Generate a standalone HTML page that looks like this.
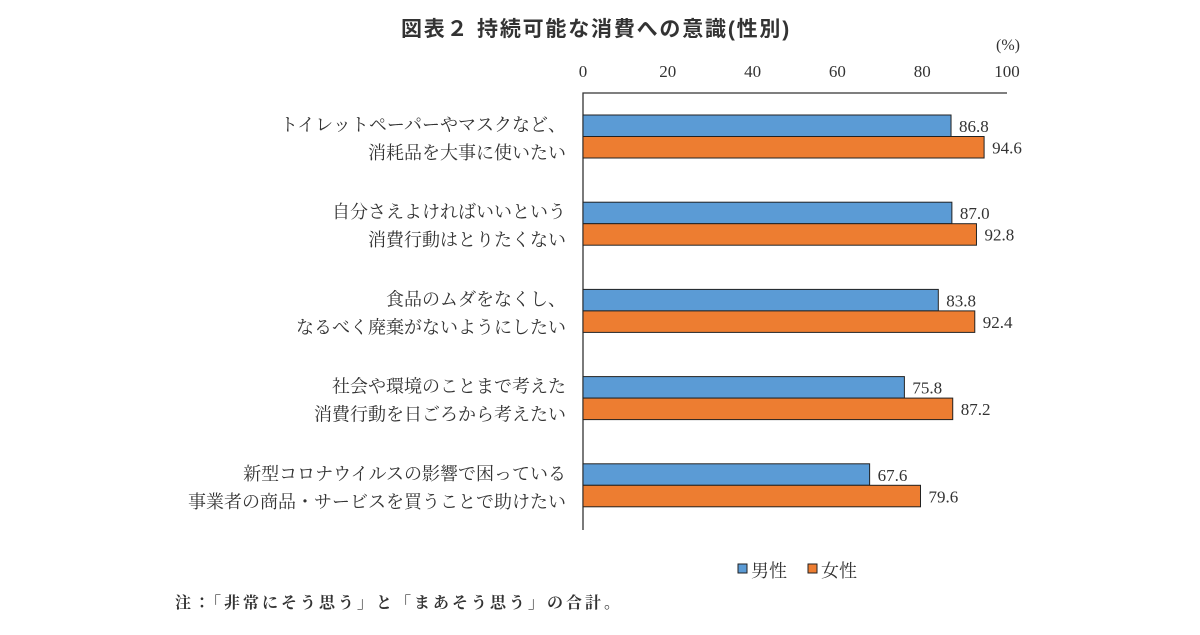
<!DOCTYPE html>
<html><head><meta charset="utf-8"><style>
body{margin:0;background:#fff}
svg text{font-family:"Liberation Serif","Noto Serif CJK JP","Noto Serif CJK SC",serif;fill:#333}
</style></head><body>
<svg id="c" width="1200" height="630">
<text x="596" y="36" text-anchor="middle" font-size="21" font-weight="bold" letter-spacing="1.8" style="font-family:'Liberation Sans','Noto Sans CJK JP',sans-serif">図表２ 持続可能な消費への意識(性別)</text>
<text x="1008" y="50" text-anchor="middle" font-size="16">(%)</text>
<text x="175" y="608" font-size="16" font-weight="bold" letter-spacing="3">注：「非常にそう思う」と「まあそう思う」の合計。</text>
</svg>
<script>
const categories=[["トイレットペーパーやマスクなど、","消耗品を大事に使いたい"],["自分さえよければいいという","消費行動はとりたくない"],["食品のムダをなくし、","なるべく廃棄がないようにしたい"],["社会や環境のことまで考えた","消費行動を日ごろから考えたい"],["新型コロナウイルスの影響で困っている","事業者の商品・サービスを買うことで助けたい"]];
const male=[86.8,87.0,83.8,75.8,67.6];
const female=[94.6,92.8,92.4,87.2,79.6];
const ticks=[0,20,40,60,80,100];
const svg=document.getElementById('c');const NS='http://www.w3.org/2000/svg';
const x0=583,x1=1007;const xs=v=>x0+(x1-x0)*v/100;
const gy=i=>115+87.2*i;const bh=21.5;
function mk(t,a){const e=document.createElementNS(NS,t);for(const k in a)e.setAttribute(k,a[k]);svg.appendChild(e);return e;}
ticks.forEach(t=>{const e=mk('text',{x:xs(t),y:77,'text-anchor':'middle','font-size':17});e.textContent=t;

});
const ax=mk('path',{d:`M${x0},530V93H${x1}`,stroke:'#333','stroke-width':1.3,fill:'none'});


categories.forEach((c,i)=>{const y=gy(i);
[[male[i],'#5b9bd5',y],[female[i],'#ed7d31',y+bh]].forEach(([v,col,yy],k)=>{
const r=mk('rect',{x:x0,y:yy,width:xs(v)-x0,height:bh,fill:col,stroke:'#222','stroke-width':1});


const t=mk('text',{x:xs(v)+8,y:yy+17,'font-size':17});t.textContent=v.toFixed(1);

});
c.forEach((ln,j)=>{const t=mk('text',{x:566,y:y+16+j*28,'text-anchor':'end','font-size':18});t.textContent=ln;

});
});
[['男性','#5b9bd5',738],['女性','#ed7d31',808]].forEach(([n,col,x])=>{
const r=mk('rect',{x:x,y:564,width:9,height:9,fill:col,stroke:'#222','stroke-width':1});


const t=mk('text',{x:x+13,y:577,'font-size':18});t.textContent=n;

});
</script>
</body></html>
